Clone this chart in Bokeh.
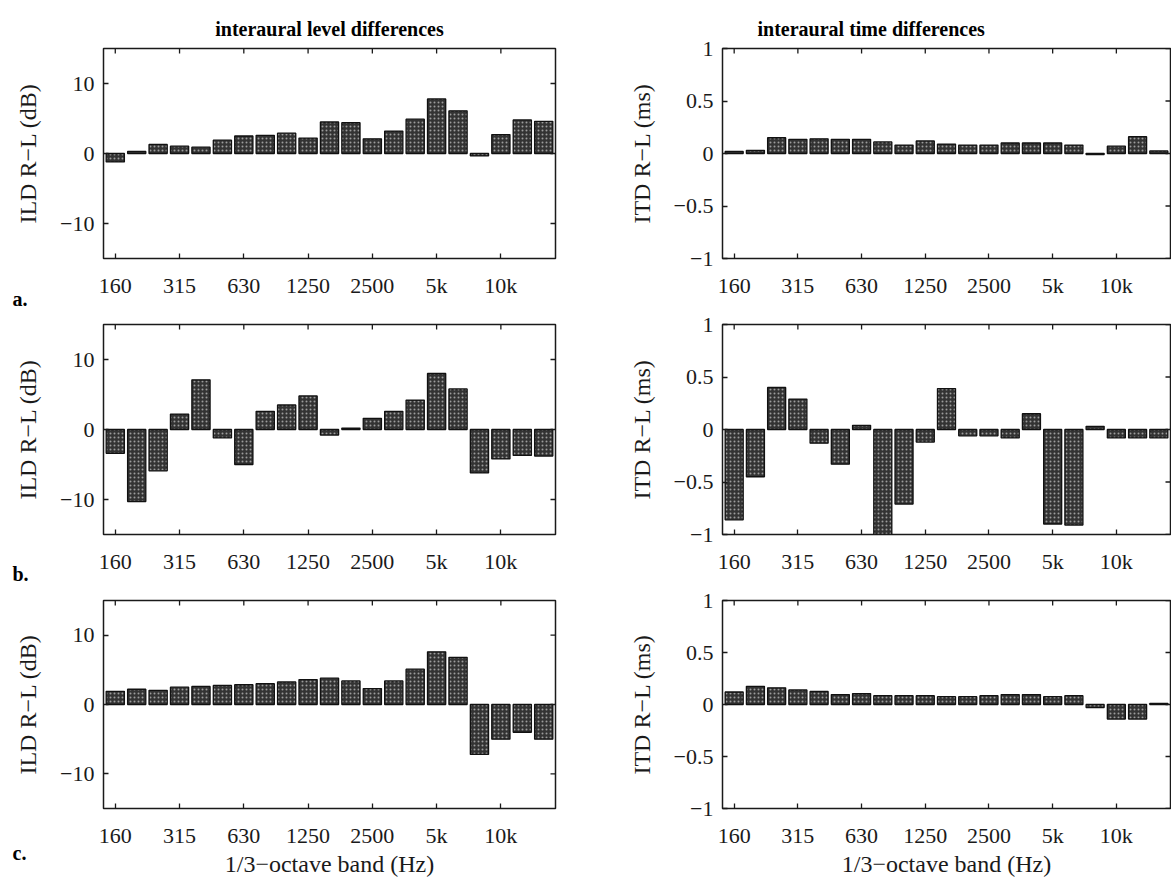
import math

from bokeh.embed import file_html
from bokeh.layouts import column, row
from bokeh.models import ColumnDataSource, FixedTicker, Range1d, Title
from bokeh.plotting import figure
from bokeh.resources import INLINE

# 1/3-octave band centre frequencies (Hz), one bar per band
bands = ["160", "200", "250", "315", "400", "500", "630", "800", "1000", "1250",
         "1600", "2000", "2500", "3150", "4000", "5000", "6300", "8000", "10k",
         "12.5k", "16k"]
band_index = list(range(len(bands)))

# labelled bands on the frequency axis
tick_positions = [0, 3, 6, 9, 12, 15, 18]
tick_labels = ["160", "315", "630", "1250", "2500", "5k", "10k"]

# interaural level differences, R-L (dB)
ild_a = [-1.2, 0.3, 1.3, 1.05, 0.9, 1.9, 2.5, 2.6, 2.9, 2.2, 4.5, 4.4, 2.1, 3.2,
         4.9, 7.8, 6.1, -0.35, 2.7, 4.8, 4.6]
ild_b = [-3.4, -10.3, -5.9, 2.2, 7.1, -1.2, -5.0, 2.6, 3.5, 4.8, -0.8, 0.2, 1.6,
         2.6, 4.2, 8.0, 5.8, -6.2, -4.2, -3.7, -3.8]
ild_c = [1.9, 2.2, 2.05, 2.5, 2.6, 2.75, 2.85, 3.0, 3.25, 3.6, 3.8, 3.4, 2.3, 3.4,
         5.1, 7.6, 6.8, -7.2, -5.0, -4.0, -5.0]

# interaural time differences, R-L (ms)
itd_a = [0.02, 0.03, 0.15, 0.135, 0.14, 0.135, 0.135, 0.11, 0.08, 0.12, 0.09, 0.08,
         0.08, 0.10, 0.10, 0.10, 0.08, -0.01, 0.07, 0.16, 0.025]
itd_b = [-0.86, -0.45, 0.40, 0.29, -0.13, -0.33, 0.04, -1.0, -0.71, -0.12, 0.39,
         -0.06, -0.06, -0.08, 0.15, -0.90, -0.91, 0.03, -0.08, -0.08, -0.08]
itd_c = [0.12, 0.175, 0.16, 0.14, 0.125, 0.095, 0.105, 0.085, 0.085, 0.085, 0.075,
         0.075, 0.085, 0.095, 0.095, 0.075, 0.085, -0.03, -0.14, -0.14, 0.01]

ild_ticks = [-10, 0, 10]
ild_tick_labels = ["\u221210", "0", "10"]
itd_ticks = [-1, -0.5, 0, 0.5, 1]
itd_tick_labels = ["\u22121", "\u22120.5", "0", "0.5", "1"]

FONT = "Liberation Serif"
INK = "#1a1a1a"
X_LO, X_HI = -0.55, 20.55


def make_panel(values, ylim, yticks, ytick_labels, ylabel, frame_w, left_b, right_b,
               top_b, bottom_b, frame_h, title=None, title_align="center",
               title_offset=0, xlabel=None, letter=None, letter_standoff=0):
    p = figure(frame_width=frame_w, frame_height=frame_h,
               min_border_left=left_b, min_border_right=right_b,
               min_border_top=top_b, min_border_bottom=bottom_b,
               x_range=Range1d(X_LO, X_HI), y_range=Range1d(*ylim),
               output_backend="svg", toolbar_location=None,
               background_fill_color="white", border_fill_color="white")
    p.outline_line_color = INK
    p.outline_line_width = 1.5
    p.outline_line_alpha = 1.0
    p.grid.grid_line_color = None

    src = ColumnDataSource(dict(x=band_index, v=values))
    p.vbar(x="x", top="v", bottom=0, width=0.85, source=src,
           fill_color="#333333", line_color="#111111", line_width=1.3,
           hatch_pattern="dot", hatch_color="#9c9c9c", hatch_scale=4,
           hatch_weight=1.5)

    # inward tick marks along the top and right edges of the box
    p.scatter(x=tick_positions, y=[ylim[1]] * len(tick_positions), marker="dash",
              angle=math.pi / 2, size=10, line_color=INK, line_width=1.3)
    p.scatter(x=[X_HI] * len(yticks), y=yticks, marker="dash", size=10,
              line_color=INK, line_width=1.3)

    xa = p.xaxis[0]
    xa.ticker = FixedTicker(ticks=tick_positions)
    xa.major_label_overrides = {t: s for t, s in zip(tick_positions, tick_labels)}
    ya = p.yaxis[0]
    ya.ticker = FixedTicker(ticks=yticks)
    ya.major_label_overrides = {t: s for t, s in zip(yticks, ytick_labels)}
    for ax in (xa, ya):
        ax.axis_line_color = None
        ax.major_tick_in = 5
        ax.major_tick_out = 0
        ax.major_tick_line_color = INK
        ax.major_tick_line_width = 1.3
        ax.minor_tick_line_color = None
        ax.major_label_text_font = FONT
        ax.major_label_text_font_size = "22px"
        ax.major_label_text_color = INK
        ax.axis_label_text_font = FONT
        ax.axis_label_text_font_size = "24px"
        ax.axis_label_text_font_style = "normal"
        ax.axis_label_text_color = INK
    xa.major_label_standoff = 14
    ya.major_label_standoff = 9
    ya.axis_label = ylabel
    ya.axis_label_standoff = 16
    if xlabel:
        xa.axis_label = xlabel
        xa.axis_label_standoff = 0

    if title:
        p.title.text = title
        p.title.align = title_align
        p.title.offset = title_offset
        p.title.text_font = FONT
        p.title.text_font_size = "20px"
        p.title.text_font_style = "bold"
        p.title.text_color = "black"
        p.title.standoff = 18

    if letter:
        # panel letter, pulled up beside the tick labels under the box
        p.add_layout(Title(text=letter, align="left", vertical_align="top",
                           offset=-91, standoff=letter_standoff, text_font=FONT,
                           text_font_size="20px", text_font_style="bold",
                           text_color="black"), "below")
    return p


LEFT = dict(frame_w=452, left_b=103, right_b=65)
RIGHT = dict(frame_w=448, left_b=102, right_b=1)
ROW_A = dict(top_b=48, bottom_b=53, frame_h=210)
ROW_B = dict(top_b=13, bottom_b=53, frame_h=210)
ROW_C = dict(top_b=13, bottom_b=72, frame_h=208)

ild_args = dict(ylim=(-15, 15), yticks=ild_ticks, ytick_labels=ild_tick_labels,
                ylabel="ILD R\u2212L (dB)")
itd_args = dict(ylim=(-1, 1), yticks=itd_ticks, ytick_labels=itd_tick_labels,
                ylabel="ITD R\u2212L (ms)")
xlab = "1/3\u2212octave band (Hz)"

pa_l = make_panel(ild_a, **ild_args, **LEFT, **ROW_A,
                  title="interaural level differences", letter="a.",
                  letter_standoff=-26)
pa_r = make_panel(itd_a, **itd_args, **RIGHT, **ROW_A,
                  title="interaural time differences", title_align="left",
                  title_offset=35)
pb_l = make_panel(ild_b, **ild_args, **LEFT, **ROW_B, letter="b.",
                  letter_standoff=-28)
pb_r = make_panel(itd_b, **itd_args, **RIGHT, **ROW_B)
pc_l = make_panel(ild_c, **ild_args, **LEFT, **ROW_C, xlabel=xlab, letter="c.",
                  letter_standoff=-76)
pc_r = make_panel(itd_c, **itd_args, **RIGHT, **ROW_C, xlabel=xlab)

layout = column(row(pa_l, pa_r), row(pb_l, pb_r), row(pc_l, pc_r))

with open("out.html", "w") as f:
    f.write(file_html(layout, INLINE))
